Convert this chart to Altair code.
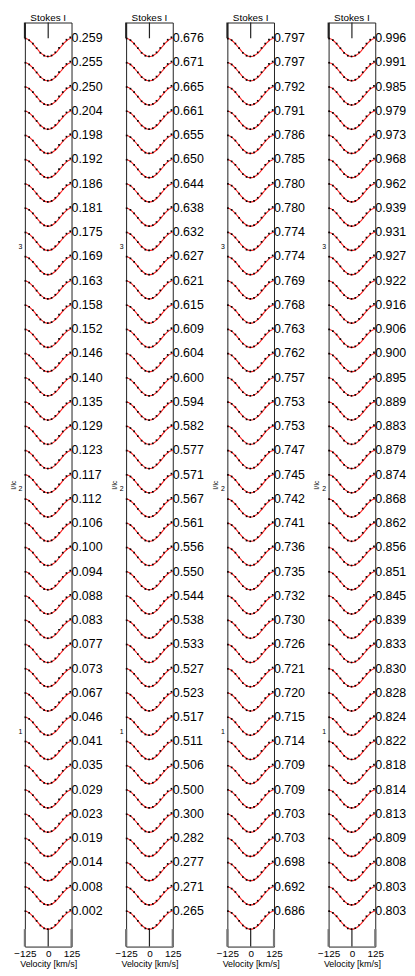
import altair as alt
import pandas as pd

# ---- data ----
vel_line = [-125, -112.5, -100, -87.5, -75, -62.5, -50, -37.5, -25, -12.5, 0,
            12.5, 25, 37.5, 50, 62.5, 75, 87.5, 100, 112.5, 125]
depth_line = [0.000, -0.003, -0.009, -0.018, -0.029, -0.041, -0.052, -0.062, -0.069, -0.074, -0.075,
              -0.074, -0.069, -0.062, -0.052, -0.041, -0.029, -0.018, -0.009, -0.003, 0.000]
vel_obs = [-122, -102, -82, -62, -42, -22, -2, 18, 38, 58, 78, 98, 118]
depth_obs = [-0.001, -0.008, -0.022, -0.041, -0.060, -0.072, -0.075, -0.071, -0.058, -0.040, -0.022, -0.006, 0.004]

phases_1 = ["0.259", "0.255", "0.250", "0.204", "0.198", "0.192", "0.186", "0.181", "0.175", "0.169",
            "0.163", "0.158", "0.152", "0.146", "0.140", "0.135", "0.129", "0.123", "0.117", "0.112",
            "0.106", "0.100", "0.094", "0.088", "0.083", "0.077", "0.073", "0.067", "0.046", "0.041",
            "0.035", "0.029", "0.023", "0.019", "0.014", "0.008", "0.002"]
phases_2 = ["0.676", "0.671", "0.665", "0.661", "0.655", "0.650", "0.644", "0.638", "0.632", "0.627",
            "0.621", "0.615", "0.609", "0.604", "0.600", "0.594", "0.582", "0.577", "0.571", "0.567",
            "0.561", "0.556", "0.550", "0.544", "0.538", "0.533", "0.527", "0.523", "0.517", "0.511",
            "0.506", "0.500", "0.300", "0.282", "0.277", "0.271", "0.265"]
phases_3 = ["0.797", "0.797", "0.792", "0.791", "0.786", "0.785", "0.780", "0.780", "0.774", "0.774",
            "0.769", "0.768", "0.763", "0.762", "0.757", "0.753", "0.753", "0.747", "0.745", "0.742",
            "0.741", "0.736", "0.735", "0.732", "0.730", "0.726", "0.721", "0.720", "0.715", "0.714",
            "0.709", "0.709", "0.703", "0.703", "0.698", "0.692", "0.686"]
phases_4 = ["0.996", "0.991", "0.985", "0.979", "0.973", "0.968", "0.962", "0.939", "0.931", "0.927",
            "0.922", "0.916", "0.906", "0.900", "0.895", "0.889", "0.883", "0.879", "0.874", "0.868",
            "0.862", "0.856", "0.851", "0.845", "0.839", "0.833", "0.830", "0.828", "0.824", "0.822",
            "0.818", "0.814", "0.813", "0.809", "0.808", "0.803", "0.803"]

top_continuum = 3.858
offset_step = 0.1
y_domain = [0.111, 3.923]
x_domain = [-125, 125]

FONT = "Liberation Sans"


def panel(phases):
    n = len(phases)
    conts = [top_continuum - offset_step * k for k in range(n)]
    line_rows, obs_rows, lab_rows = [], [], []
    for k, c in enumerate(conts):
        for v, d in zip(vel_line, depth_line):
            line_rows.append({"v": v, "y": c + d, "k": k})
        for v, d in zip(vel_obs, depth_obs):
            obs_rows.append({"v": v, "y": c + d})
        lab_rows.append({"v": x_domain[1], "y": c, "label": phases[k]})
    bottom_min = conts[-1] + min(depth_line)
    rule_rows = [
        {"v": 0, "y": conts[0], "y2": y_domain[1], "w": 1.2, "c": "a"},
        {"v": 0, "y": y_domain[0], "y2": bottom_min, "w": 1.2, "c": "a"},
        {"v": -125, "y": conts[0], "y2": y_domain[1], "w": 2, "c": "a"},
        {"v": -125, "y": y_domain[0], "y2": bottom_min, "w": 2.2, "c": "b"},
        {"v": 125, "y": y_domain[0], "y2": bottom_min, "w": 2.2, "c": "b"},
    ]
    xs = alt.X("v:Q", scale=alt.Scale(domain=x_domain, nice=False, zero=False),
               axis=alt.Axis(values=[-125, 0, 125], title="Velocity [km/s]", ticks=False,
                             labelExpr="datum.value < 0 ? '\u2212' + abs(datum.value) : datum.value",
                             labelFontSize=10, titleFontSize=9, labelPadding=2, titlePadding=1,
                             grid=False, domain=False, labelFont=FONT, titleFont=FONT,
                             titleFontWeight="normal", labelColor="black", titleColor="black",
                             labelFlush=False))
    ys = alt.Y("y:Q", scale=alt.Scale(domain=y_domain, nice=False, zero=False),
               axis=alt.Axis(values=[1, 2, 3], title="I/Ic", ticks=False,
                             labelFontSize=7, titleFontSize=7, labelPadding=3, titlePadding=2,
                             grid=False, domain=False, labelFont=FONT, titleFont=FONT,
                             titleFontWeight="normal", labelColor="black", titleColor="black"))
    line = alt.Chart(pd.DataFrame(line_rows)).mark_line(
        color="#ff2020", strokeWidth=1.1, interpolate="monotone").encode(x=xs, y=ys, detail="k:N")
    dots = alt.Chart(pd.DataFrame(obs_rows)).mark_square(
        color="black", size=3, opacity=1).encode(x=xs, y=ys)
    rules = alt.Chart(pd.DataFrame(rule_rows)).mark_rule().encode(
        x=xs, y=ys, y2="y2:Q",
        strokeWidth=alt.StrokeWidth("w:Q", scale=None, legend=None),
        color=alt.Color("c:N", scale=alt.Scale(domain=["a", "b"], range=["#222222", "#777777"]),
                        legend=None))
    labels = alt.Chart(pd.DataFrame(lab_rows)).mark_text(
        align="left", baseline="middle", dx=0, fontSize=12.5, font=FONT, color="black").encode(
        x=xs, y=ys, text="label:N")
    return alt.layer(rules, line, dots, labels).properties(
        width=47, height=931,
        title=alt.TitleParams("Stokes I", fontSize=10, font=FONT, fontWeight="normal",
                              offset=-1, color="black"))


chart = alt.hconcat(panel(phases_1), panel(phases_2), panel(phases_3), panel(phases_4),
                    spacing=55, bounds="flush").properties(
    padding={"left": 0, "top": 0, "right": 0, "bottom": 0}
).configure_view(stroke="#222", strokeWidth=1)

chart.save("out.html", embed_options={"renderer": "svg", "actions": False})
